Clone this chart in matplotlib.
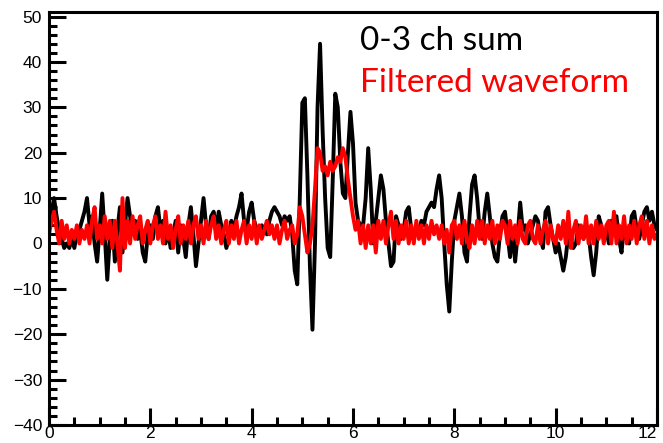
import numpy as np
import matplotlib
matplotlib.use("Agg")
import matplotlib.pyplot as plt
from matplotlib.ticker import MultipleLocator

# sample times (us), one point every 0.05
t_start = 0.0
t_step = 0.05

# 0-3 channel sum (black)
ch_sum = [
    4, 7, 10, 6, 3, 1, -1, 0, -1, 1, -1, 2, 3, 5, 7, 10, 4, 6, 0, -4,
    3, 11, 2, -8, 1, 5, -4, 3, 8, -2, 4, 10, 6, 2, 5, 1, 3, -2, -4, 2,
    4, 1, 6, 8, 3, 5, 0, 3, -1, 2, 5, -2, 4, 1, -3, 4, 8, 2, -5, 0,
    5, 10, 4, 1, 6, 7, 3, 7, 4, 2, -1, 1, 5, 3, 6, 8, 11, 5, 3, 7,
    9, 5, 3, 2, 4, 3, 2, 5, 7, 8, 7, 6, 4, 6, 5, 6, 2, -6, -9, 10,
    31, 32, 15, -5, -19, 0, 30, 44, 25, 10, -1, -3, 14, 33, 30, 18, 11, 10, 20, 29,
    22, 9, 5, 4, 4, 10, 21, 12, 0, 5, 10, 15, 12, 5, 0, -5, -4, 6, 4, 1,
    3, 7, 8, 3, 1, 4, 2, 5, 4, 7, 8, 9, 8, 12, 15, 10, 0, -9, -15, -4,
    5, 8, 11, 6, -2, -4, 6, 13, 15, 10, 3, 1, 7, 11, 6, 0, -3, -4, 2, 6,
    7, 2, -3, 3, -4, 2, 9, 3, 4, 0, 2, 4, 6, 5, 1, -1, 7, 8, 4, 1,
    -2, 0, -3, -6, -3, 2, 1, -1, 0, 4, 3, 1, 4, 2, -3, -7, -2, 6, 4, 1,
    3, 0, 5, 2, 6, 1, -2, 4, 1, 0, 6, 7, 3, 1, 4, 7, 8, 5, 7, 4,
    3,
]

# filtered waveform (red)
filtered = [
    2, 5, 7, 3, 0, 5, 1, 4, 0, 3, 1, 4, 0, 3, 1, 4, 0, 5, 8, 1,
    4, 0, 6, 1, 5, -1, 5, 0, -6, 10, -1, 5, 0, 6, 1, 4, 6, 0, 3, 5,
    0, 4, 6, 1, 4, 0, 7, 1, 4, -1, 3, 6, 0, 4, 1, 5, 0, 4, 6, 1,
    4, 0, 5, 1, 4, 6, 1, 4, 0, 3, 5, 0, 4, 1, 5, 0, 3, 5, 0, 4,
    1, 5, 0, 4, 1, 3, 5, 2, 4, 1, 4, 0, 3, 5, 1, 3, 4, 0, 2, 8,
    6, 2, -2, 0, 4, 12, 21, 20, 16, 17, 15, 18, 16, 17, 19, 18, 21, 19, 14, 10,
    6, 3, 5, 0, 4, -1, 4, 0, 4, -2, 5, 1, 5, 0, 4, 7, 1, 5, 0, 4,
    1, 5, 0, 4, 0, 5, 1, 4, 0, 4, 1, 5, 2, 4, 1, 4, 0, 3, -2, 4,
    5, 1, 4, 0, 5, 1, -1, 4, 0, 5, 1, 5, 0, 4, 1, 5, 0, 4, 1, 5,
    4, 0, 5, 1, 4, 0, 5, 1, 0, 4, 5, 1, 0, 4, 0, 3, 5, 0, 4, 1,
    0, 4, 1, 5, 0, 7, -1, 3, 5, 0, 4, 1, 6, 0, 4, 0, 5, 1, 4, 0,
    4, 5, 0, 7, 0, 4, 1, 6, 0, 4, 1, 5, 0, 4, 6, 1, 5, 0, 4, 1,
    2,
]

t = t_start + t_step * np.arange(len(ch_sum))

plt.rcParams['font.family'] = ['Liberation Sans', 'DejaVu Sans']

fig = plt.figure(figsize=(6.63, 4.43), dpi=100)
ax = fig.add_axes([49 / 663, 18 / 443, 608 / 663, 413 / 443])

ax.plot(t, ch_sum, color='black', lw=2.8)
ax.plot(t, filtered, color='red', lw=2.8)

ax.set_xlim(0, 12)
ax.set_ylim(-40, 51)
ax.set_xticks([0, 2, 4, 6, 8, 10, 12])
ax.xaxis.set_minor_locator(MultipleLocator(0.5))
ax.yaxis.set_major_locator(MultipleLocator(10))
ax.yaxis.set_minor_locator(MultipleLocator(2))

for s in ax.spines.values():
    s.set_linewidth(2.2)
ax.tick_params(which='both', direction='in', width=2.2, top=False, right=False,
               labelsize=12.5)
ax.tick_params(which='major', length=12)
ax.tick_params(which='minor', length=6)
ax.tick_params(axis='x', pad=1)
ax.tick_params(axis='y', pad=5)

# keep the "12" inside the canvas
fig.canvas.draw()
for tick in ax.xaxis.get_major_ticks():
    if abs(tick.get_loc() - 12) < 1e-6:
        tick.label1.set_horizontalalignment('right')

fig.text(360 / 663, 1 - 50 / 443, "0-3 ch sum", color='black',
         fontsize=24, family='Lato', va='baseline')
fig.text(360 / 663, 1 - 92 / 443, "Filtered waveform", color='red',
         fontsize=24, family='Lato', va='baseline')

fig.savefig("out.png", dpi=100)
